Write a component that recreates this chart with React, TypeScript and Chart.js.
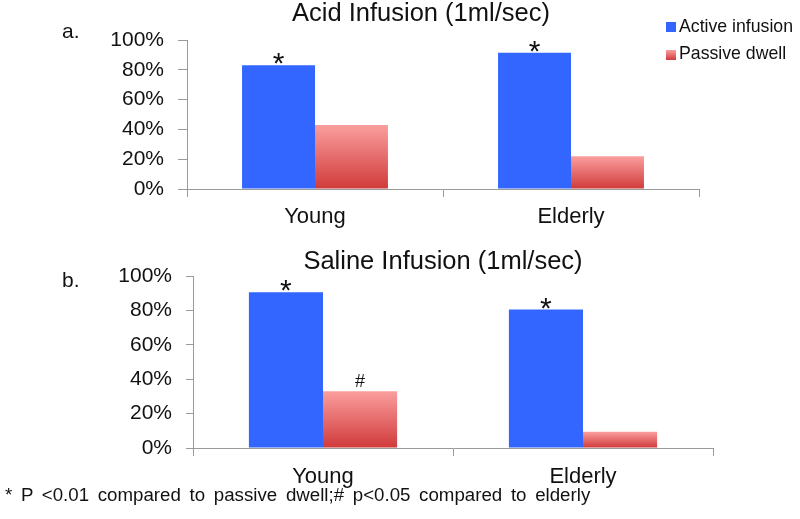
import React, { useEffect, useRef } from 'react';
import { Chart, registerables } from 'chart.js';

Chart.register(...registerables);

// ---- data ----
const categories = ['Young', 'Elderly'];
const seriesNames = ['Active infusion', 'Passive dwell'];
const acidActive = [83, 91.5];
const acidPassive = [43, 22];
const salineActive = [90.5, 80.5];
const salinePassive = [33, 9.5];
const acidActiveMarks = ['*', '*'];
const acidPassiveMarks = ['', ''];
const salineActiveMarks = ['*', '*'];
const salinePassiveMarks = ['#', ''];
const yTickValues = [0, 20, 40, 60, 80, 100];
const titleA = 'Acid Infusion (1ml/sec)';
const titleB = 'Saline Infusion (1ml/sec)';
const footnote = '* P <0.01 compared to passive dwell;# p<0.05 compared to elderly';

const FONT = '"Liberation Sans", Arial, Helvetica, sans-serif';
const BLUE = '#3366ff';
const PINK_TOP = '#fb9e9e';
const RED_BOTTOM = '#d03a3a';
const AXIS = '#9a9a9a';

function passiveGradient(ctx: any) {
  const chart = ctx.chart;
  if (!chart.chartArea || ctx.type !== 'data' || !chart.scales.y) return PINK_TOP;
  const y = chart.scales.y;
  const top = y.getPixelForValue(ctx.raw);
  const bottom = y.getPixelForValue(0);
  if (!isFinite(top) || !isFinite(bottom) || bottom - top < 1) return PINK_TOP;
  const g = chart.ctx.createLinearGradient(0, top, 0, bottom);
  g.addColorStop(0, PINK_TOP);
  g.addColorStop(1, RED_BOTTOM);
  return g;
}

function marksPlugin(marks: string[][]) {
  return {
    id: 'sigMarks',
    afterDatasetsDraw(chart: any) {
      const c = chart.ctx;
      c.save();
      c.fillStyle = '#111';
      c.textAlign = 'center';
      c.textBaseline = 'alphabetic';
      marks.forEach((list, di) => {
        const meta = chart.getDatasetMeta(di);
        list.forEach((m, i) => {
          if (!m) return;
          const el = meta.data[i];
          if (!el) return;
          if (m === '*') {
            c.font = `30px ${FONT}`;
            c.fillText(m, el.x, el.y + 8);
          } else {
            c.font = `18px ${FONT}`;
            c.fillText(m, el.x, el.y - 4);
          }
        });
      });
      c.restore();
    },
  };
}

type PanelProps = {
  top: number;
  height: number;
  active: number[];
  passive: number[];
  marks: string[][];
  padLeft: number;
  padRight: number;
  padTop: number;
  xAxisHeight: number;
  yTickLen: number;
  yTickPad: number;
  xTickPad: number;
};

function BarPanel(p: PanelProps) {
  const ref = useRef<HTMLCanvasElement | null>(null);
  useEffect(() => {
    if (!ref.current) return;
    const chart = new Chart(ref.current, {
      type: 'bar',
      data: {
        labels: categories,
        datasets: [
          { label: seriesNames[0], data: p.active, backgroundColor: BLUE, borderWidth: 0 },
          { label: seriesNames[1], data: p.passive, backgroundColor: passiveGradient as any, borderWidth: 0 },
        ],
      },
      options: {
        responsive: false,
        animation: false,
        events: [],
        layout: { padding: { left: p.padLeft, right: p.padRight, top: p.padTop, bottom: 0 } },
        datasets: { bar: { categoryPercentage: 0.57, barPercentage: 1.0 } },
        plugins: { legend: { display: false }, title: { display: false }, tooltip: { enabled: false } },
        scales: {
          x: {
            offset: true,
            grid: { offset: true, display: true, drawOnChartArea: false, drawTicks: true, tickLength: 8, color: AXIS, lineWidth: 1 },
            border: { display: true, color: AXIS, width: 1 },
            ticks: { color: '#111', font: { family: FONT, size: 22 }, padding: p.xTickPad },
            afterFit: (s: any) => { s.height = p.xAxisHeight; },
          },
          y: {
            min: 0,
            max: 100,
            afterBuildTicks: (s: any) => { s.ticks = yTickValues.map((v) => ({ value: v })); },
            grid: { display: true, drawOnChartArea: false, drawTicks: true, tickLength: p.yTickLen, color: AXIS, lineWidth: 1 },
            border: { display: true, color: AXIS, width: 1 },
            ticks: { color: '#111', font: { family: FONT, size: 21 }, padding: p.yTickPad, callback: (v: any) => `${v}%` },
            afterFit: (s: any) => { s.width = 100; },
          },
        },
      },
      plugins: [marksPlugin(p.marks)],
    });
    return () => chart.destroy();
  }, []);
  return (
    <canvas
      ref={ref}
      width={800}
      height={p.height}
      style={{ position: 'absolute', left: 0, top: p.top, width: 800, height: p.height }}
    />
  );
}

function Txt(props: { left: number; baseline: number; size: number; text: string; width?: number; center?: boolean; wordSpacing?: number }) {
  const top = props.baseline - 0.8465 * props.size;
  return (
    <div
      style={{
        position: 'absolute',
        left: props.left,
        top,
        width: props.width,
        fontSize: props.size,
        lineHeight: 1,
        whiteSpace: 'pre',
        textAlign: props.center ? 'center' : 'left',
        color: '#111',
        fontFamily: FONT,
        wordSpacing: props.wordSpacing,
      }}
    >
      {props.text}
    </div>
  );
}

export default function App() {
  return (
    <div style={{ position: 'absolute', left: 0, top: 0, width: 800, height: 519, background: '#fff', overflow: 'hidden', fontFamily: FONT }}>
      <BarPanel
        top={0}
        height={240}
        active={acidActive}
        passive={acidPassive}
        marks={[acidActiveMarks, acidPassiveMarks]}
        padLeft={87}
        padRight={101}
        padTop={40}
        xAxisHeight={51}
        yTickLen={9}
        yTickPad={14}
        xTickPad={7}
      />
      <BarPanel
        top={240}
        height={279}
        active={salineActive}
        passive={salinePassive}
        marks={[salineActiveMarks, salinePassiveMarks]}
        padLeft={93}
        padRight={87}
        padTop={36}
        xAxisHeight={71}
        yTickLen={7}
        yTickPad={14}
        xTickPad={8}
      />
      <Txt left={62} baseline={38} size={21} text="a." />
      <Txt left={221} width={400} center baseline={22} size={25.5} text={titleA} />
      <Txt left={62} baseline={287} size={21} text="b." />
      <Txt left={243} width={400} center baseline={270} size={25.5} text={titleB} />
      <Txt left={5} baseline={502} size={18.7} text={footnote} wordSpacing={3.5} />
      {/* legend */}
      <div style={{ position: 'absolute', left: 666, top: 22, width: 10, height: 10, background: BLUE }} />
      <Txt left={679} baseline={33} size={17.7} text={seriesNames[0]} />
      <div style={{ position: 'absolute', left: 666, top: 50, width: 10, height: 10, background: `linear-gradient(${PINK_TOP}, ${RED_BOTTOM})` }} />
      <Txt left={679} baseline={60} size={17.7} text={seriesNames[1]} />
    </div>
  );
}
